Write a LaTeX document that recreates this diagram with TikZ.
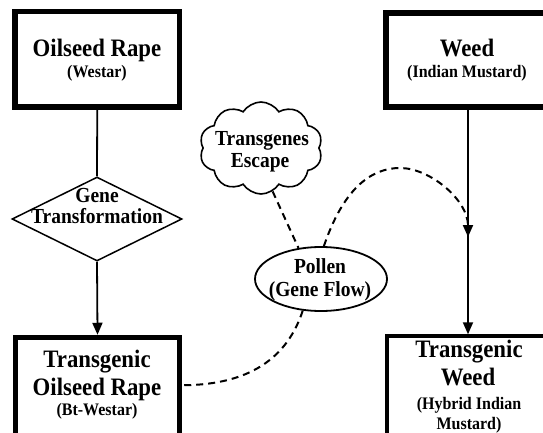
\documentclass[tikz,border=0pt]{standalone}
\usepackage{fontspec}
\setmainfont{Liberation Serif}
\usetikzlibrary{shapes.geometric,shapes.symbols,arrows.meta,calc}
\newcommand{\tallt}[1]{\scalebox{1}[1.1]{#1}}
\begin{document}
\begin{tikzpicture}[x=1pt,y=-1pt,
  box/.style={draw, rectangle, line width=5.5pt, inner sep=0pt},
  big/.style={font=\fontsize{22.8}{24}\selectfont\bfseries, anchor=base, inner sep=0pt},
  small/.style={font=\fontsize{16}{18}\selectfont\bfseries, anchor=base, inner sep=0pt},
  mid/.style={font=\fontsize{19.5}{21}\selectfont\bfseries, anchor=base, inner sep=0pt},
  link/.style={line width=1.8pt},
  arr/.style={-{Triangle[length=12pt,width=10pt]}},
  flow/.style={line width=2pt, dash pattern=on 7pt off 5pt}
]
\useasboundingbox (0,0) rectangle (543,433);
\fill[white] (0,0) rectangle (543,433);
\clip (0,0) rectangle (543,433);

% boxes
\node[box, minimum width=164.5pt, minimum height=95.5pt] (oil) at (97.25,59.25) {};
\node[box, minimum width=164pt, minimum height=94pt] (weed) at (468,60) {};
\node[box, minimum width=164pt, minimum height=107.5pt] (tor) at (97.5,391.25) {};
\node[box, line width=4pt, minimum width=162pt, minimum height=108.7pt] (tweed) at (468,390.65) {};

% texts of boxes
\node[big] (t1) at (97,57) {\tallt{Oilseed Rape}};
\node[small] (t2) at (97,78) {\tallt{(Westar)}};
\node[big] (t3) at (467,57) {\tallt{Weed}};
\node[small] (t4) at (467,78) {\tallt{(Indian Mustard)}};
\node[big] (t5) at (97,367) {\tallt{Transgenic}};
\node[big] (t6) at (97,395) {\tallt{Oilseed Rape}};
\node[small] (t7) at (97,415) {\tallt{(Bt-Westar)}};
\node[big] (t8) at (469,357) {\tallt{Transgenic}};
\node[big] (t9) at (468,385) {\tallt{Weed}};
\node[small] (t10) at (469,409) {\tallt{(Hybrid Indian}};
\node[small] (t11) at (469,429) {\tallt{Mustard)}};

% diamond
\node[draw, diamond, line width=1.5pt, inner sep=0pt, minimum width=170pt, minimum height=84pt] (gt) at (97,219) {};
\node[mid] (g1) at (97,202) {\tallt{Gene}};
\node[mid] (g2) at (97,223) {\tallt{Transformation}};

% cloud
\node[draw, cloud, cloud puffs=10, cloud puff arc=115, aspect=1.4, line width=1.6pt, inner sep=0pt, minimum width=123pt, minimum height=92pt] (esc) at (261,148) {};
\node[mid] (c1) at (262,145) {\tallt{Transgenes}};
\node[mid] (c2) at (260,167) {\tallt{Escape}};

% ellipse
\node[draw, ellipse, line width=1.8pt, inner sep=0pt, minimum width=132pt, minimum height=64pt] (pollen) at (321,279) {};
\node[mid] (p1) at (320,273) {\tallt{Pollen}};
\node[mid] (p2) at (320,296) {\tallt{(Gene Flow)}};

\coordinate (hit) at (468,237);

% connectors
\draw[link] (oil.south) -- (gt.north);
\draw[link, arr] (gt.south) -- (tor.north);
\draw[link, arr] (weed.south) -- (tweed.north);
\draw[flow] (esc.-75) -- (pollen.126);
\draw[flow, arr] (pollen.85) .. controls (343,190) and (370,168) .. (400,168)
   .. controls (430,168) and (468,200) .. (hit);
\draw[flow] (pollen.240) .. controls (285,365) and (240,385) .. ([yshift=6pt]tor.east);
\end{tikzpicture}
\end{document}
